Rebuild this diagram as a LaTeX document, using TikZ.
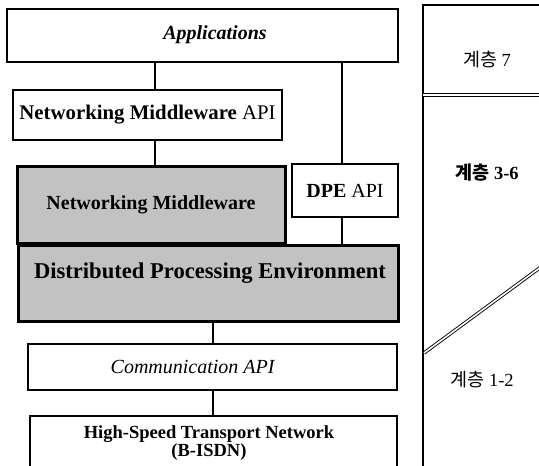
\documentclass[tikz,border=0pt]{standalone}
\usepackage{fontspec}
\setmainfont{Liberation Serif}
\newfontfamily\kr{Noto Sans CJK KR}
\usetikzlibrary{calc}
\begin{document}
\begin{tikzpicture}[x=1pt,y=-1pt,
  box/.style={draw, line width=1.1pt, inner sep=0pt, fill=white},
  shaded/.style={draw, line width=3pt, inner sep=0pt, fill=black!24},
  link/.style={line width=1.1pt},
  txt/.style={font=\fontsize{20}{22}\selectfont, inner sep=0pt},
  krtxt/.style={font=\fontsize{18.5}{20}\selectfont, inner sep=0pt},
  layerline/.style={line width=1.4pt},
  dbl/.style={double, line width=0.9pt, double distance=1.6pt}]
\clip (0,0) rectangle (539,466);

% left stack of layers
\node[box, minimum width=391pt, minimum height=53pt] (app) at (202.5,35.5) {};
\node[txt] (apptxt) at (215,35) {\textbf{\textit{Applications}}};

\node[box, minimum width=269pt, minimum height=50pt, txt, font=\fontsize{20.8}{22}\selectfont] (nmapi) at (147.5,115)
  {\textbf{Networking Middleware} API};

\node[box, minimum width=106pt, minimum height=53pt, txt] (dpeapi) at (345,190.5)
  {\textbf{DPE} API};

\node[shaded, minimum width=380pt, minimum height=76pt] (dpe) at (208,283) {};
\node[txt, font=\fontsize{22.6}{24}\selectfont] (dpetxt) at (210,273)
  {\textbf{Distributed Processing Environment}};

\node[shaded, minimum width=268pt, minimum height=77pt, txt] (nm) at (151,204.5)
  {\textbf{Networking Middleware}};

\node[box, minimum width=369pt, minimum height=46pt] (comm) at (212.5,367) {};
\node[txt] (commtxt) at (193,367) {\textit{Communication API}};

\node[box, minimum width=367pt, minimum height=80pt] (hstn) at (213.5,456) {};
\node[txt, font=\fontsize{18.5}{18}\selectfont, align=center] (hstntxt) at (209,443)
  {\textbf{High-Speed Transport Network}\\\textbf{(B-ISDN)}};

% vertical connectors between the layers
\coordinate (xa) at (155,0);
\coordinate (xb) at (342,0);
\coordinate (xc) at (213,0);
\draw[link] (app.south -| xa) -- (nmapi.north -| xa);
\draw[link] (nmapi.south -| xa) -- (nm.north -| xa);
\draw[link] (app.south -| xb) -- (dpeapi.north -| xb);
\draw[link] (dpeapi.south -| xb) -- (dpe.north -| xb);
\draw[link] (dpe.south -| xc) -- (comm.north -| xc);
\draw[link] (comm.south -| xc) -- (hstn.north -| xc);

% OSI layer column
\draw[layerline] (423,466) -- (423,5) -- (545,5);
\draw[dbl] (423,95) -- (545,95);
\draw[dbl] (424,353) -- (545,264);
\node[krtxt] (l7) at (487,60) {{\kr 계층} 7};
\node[krtxt] (l36) at (487,173) {{\kr\bfseries 계층} \textbf{3-6}};
\node[krtxt] (l12) at (482,380) {{\kr 계층} 1-2};
\end{tikzpicture}
\end{document}
